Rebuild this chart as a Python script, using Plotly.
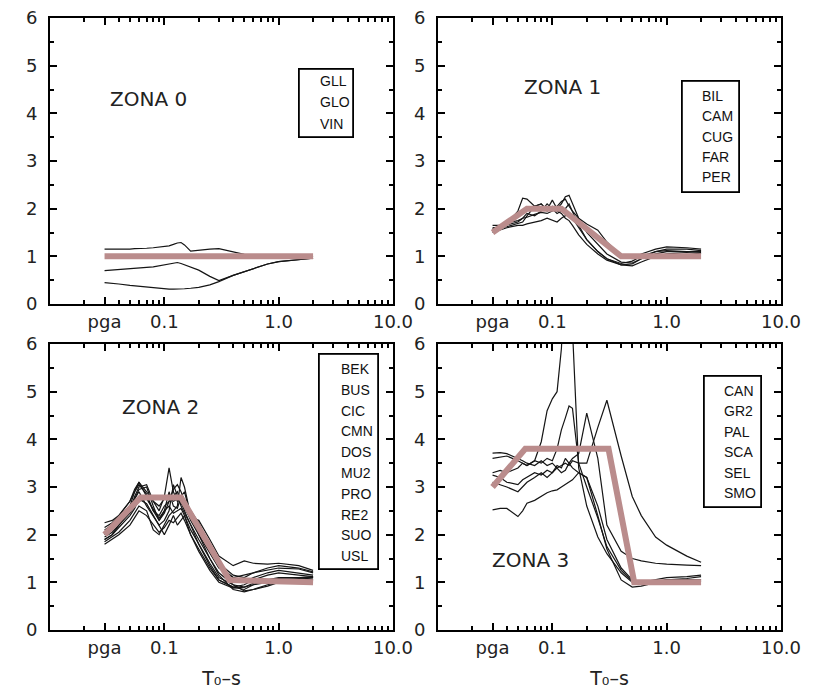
import plotly.graph_objects as go

# ---------------- data ----------------
PERIODS = [0.03, 0.035, 0.04, 0.05, 0.055, 0.06, 0.07, 0.08, 0.09, 0.1, 0.11, 0.12, 0.13,
           0.14, 0.15, 0.17, 0.2, 0.25, 0.3, 0.4, 0.5, 0.6, 0.8, 1.0, 1.5, 2.0]

X_TICK_VALS = [0.03, 0.1, 1, 10]
X_TICK_TEXT = ["pga", "0.1", "1.0", "10.0"]
X_TITLE = "T₀–s"

ZONE_NAMES = ["ZONA 0", "ZONA 1", "ZONA 2", "ZONA 3"]

STATIONS_Z0 = ["GLL", "GLO", "VIN"]
STATIONS_Z1 = ["BIL", "CAM", "CUG", "FAR", "PER"]
STATIONS_Z2 = ["BEK", "BUS", "CIC", "CMN", "DOS", "MU2", "PRO", "RE2", "SUO", "USL"]
STATIONS_Z3 = ["CAN", "GR2", "PAL", "SCA", "SEL", "SMO"]

Z0_CURVES = [
    [1.15, 1.15, 1.14, 1.15, 1.16, 1.16, 1.17, 1.18, 1.19, 1.2, 1.22, 1.25, 1.28, 1.29, 1.24, 1.11, 1.13, 1.15, 1.16, 1.1, 1.04, 1.02, 1.01, 1.0, 0.99, 1.0],
    [0.70, 0.71, 0.72, 0.74, 0.75, 0.76, 0.77, 0.78, 0.80, 0.82, 0.84, 0.86, 0.87, 0.85, 0.82, 0.77, 0.71, 0.58, 0.49, 0.60, 0.68, 0.74, 0.84, 0.89, 0.93, 0.96],
    [0.45, 0.44, 0.42, 0.39, 0.38, 0.36, 0.35, 0.34, 0.33, 0.32, 0.31, 0.31, 0.31, 0.32, 0.32, 0.33, 0.35, 0.40, 0.47, 0.60, 0.68, 0.74, 0.84, 0.89, 0.93, 0.96],
]

Z1_CURVES = [
    [1.6, 1.62, 1.68, 1.95, 2.22, 2.2, 2.05, 2.1, 1.95, 2.05, 1.95, 1.9, 1.8, 1.75, 1.65, 1.45, 1.25, 1.05, 0.92, 0.82, 0.84, 0.95, 1.05, 1.1, 1.1, 1.08],
    [1.55, 1.6, 1.62, 1.7, 1.72, 1.85, 2.05, 2.1, 1.98, 2.18, 2.0, 2.1, 2.25, 2.28, 2.1, 1.8, 1.5, 1.25, 1.05, 0.88, 0.86, 0.95, 1.1, 1.15, 1.15, 1.12],
    [1.5, 1.55, 1.6, 1.65, 1.65, 1.68, 1.72, 1.75, 1.8, 1.75, 1.72, 1.8, 1.85, 1.9, 1.8, 1.6, 1.35, 1.1, 0.95, 0.82, 0.8, 0.88, 1.0, 1.05, 1.08, 1.05],
    [1.65, 1.65, 1.7, 1.75, 1.8, 1.82, 1.88, 1.92, 1.9, 1.95, 2.05, 2.15, 2.2, 2.05, 1.95, 1.8, 1.68, 1.55, 1.3, 1.0, 0.95, 1.05, 1.15, 1.2, 1.18, 1.15],
    [1.58, 1.62, 1.65, 1.72, 1.8, 1.9, 1.85, 1.95, 2.1, 2.0, 1.9, 1.95, 2.0, 2.1, 1.95, 1.65, 1.35, 1.1, 0.95, 0.85, 0.9, 1.0, 1.1, 1.12, 1.1, 1.1],
]

Z2_CURVES = [
    [2.0, 2.1, 2.25, 2.6, 2.9, 3.1, 2.8, 2.5, 2.4, 2.6, 2.7, 2.8, 2.9, 2.7, 2.5, 2.2, 1.8, 1.35, 1.05, 0.9, 0.85, 0.95, 1.05, 1.1, 1.1, 1.1],
    [1.9, 2.0, 2.2, 2.5, 2.8, 3.0, 3.05, 2.7, 2.5, 2.8, 3.4, 2.9, 2.7, 2.8, 2.6, 2.3, 2.0, 1.6, 1.3, 1.1, 1.0, 1.1, 1.2, 1.25, 1.2, 1.15],
    [2.1, 2.2, 2.35, 2.6, 2.75, 2.9, 2.6, 2.4, 2.2, 2.3, 2.5, 3.05, 2.8, 2.6, 2.45, 2.2, 1.9, 1.5, 1.2, 0.95, 0.82, 0.85, 0.95, 1.0, 1.05, 1.05],
    [1.85, 1.95, 2.05, 2.3, 2.45, 2.6, 2.5, 2.1, 2.0, 2.2, 2.4, 2.5, 2.6, 3.2, 3.0, 2.4, 2.0, 1.5, 1.15, 0.85, 0.8, 0.85, 0.92, 1.0, 1.05, 1.1],
    [2.25, 2.3, 2.4, 2.7, 2.95, 3.1, 2.9, 2.7, 2.6, 2.75, 2.8, 2.7, 2.75, 2.65, 2.55, 2.35, 2.3, 1.9, 1.55, 1.35, 1.45, 1.4, 1.38, 1.4, 1.35, 1.25],
    [1.95, 2.05, 2.2, 2.45, 2.6, 2.7, 2.75, 2.55, 2.35, 2.5, 2.6, 2.45, 2.5, 2.55, 2.4, 2.0, 1.7, 1.3, 1.05, 0.9, 0.95, 1.05, 1.15, 1.2, 1.15, 1.12],
    [2.05, 2.15, 2.3, 2.55, 2.75, 2.95, 3.0, 2.6, 2.3, 2.5, 2.9, 2.6, 2.55, 2.8, 2.9, 2.4, 2.1, 1.7, 1.4, 1.15, 1.1, 1.2, 1.25, 1.3, 1.28, 1.2],
    [1.8, 1.9, 2.0, 2.2, 2.35, 2.5, 2.4, 2.2, 2.05, 2.15, 2.3, 2.25, 2.35, 2.45, 2.3, 2.0, 1.65, 1.25, 1.0, 0.88, 0.9, 0.98, 1.05, 1.08, 1.1, 1.12],
    [2.15, 2.25, 2.4, 2.7, 2.9, 3.05, 2.85, 2.5, 2.3, 2.45, 2.7, 2.95, 3.05, 2.9, 2.7, 2.5, 2.25, 1.75, 1.35, 1.1, 1.15, 1.2, 1.3, 1.35, 1.3, 1.22],
    [1.9, 2.0, 2.15, 2.4, 2.55, 2.75, 2.65, 2.4, 2.2, 2.0, 2.2, 2.4, 2.2, 2.3, 2.4, 2.1, 1.8, 1.4, 1.1, 0.95, 0.9, 0.95, 1.0, 1.05, 1.08, 1.1],
]

Z3_CURVES = [
    [3.6, 3.62, 3.65, 3.55, 3.5, 3.45, 3.55, 3.95, 4.6, 4.85, 5.0, 5.9, 7.5, 7.8, 6.3, 3.4, 2.6, 1.95, 1.6, 1.2, 1.0, 0.95, 1.0, 1.05, 1.08, 1.12],
    [3.3, 3.35, 3.3, 3.4, 3.5, 3.45, 3.55, 3.5, 3.6, 3.55, 3.8, 4.2, 4.45, 4.7, 4.65, 3.5, 3.0, 2.35, 1.75, 1.25, 1.02, 0.98, 1.02, 1.05, 1.05, 1.05],
    [3.71, 3.72, 3.7, 3.6, 3.55, 3.5, 3.45, 3.55, 3.45, 3.5, 3.4, 3.3, 3.35, 3.5, 3.6, 3.7, 4.55, 3.6, 2.2, 1.65, 1.5, 1.45, 1.4, 1.38, 1.36, 1.35],
    [3.25, 3.2, 3.1, 3.05, 3.15, 3.2, 3.3, 3.25, 3.35, 3.3, 3.4, 3.45, 3.5, 3.45, 3.55, 3.5, 3.5, 4.25, 4.82, 3.65, 2.8, 2.4, 1.95, 1.78, 1.55, 1.42],
    [3.1, 3.05, 3.0, 2.9, 3.0, 3.1, 3.2, 3.3, 3.2, 3.3, 3.45, 3.4, 3.6, 3.5, 3.4, 3.3, 3.2, 2.6, 1.9, 1.3, 1.05, 1.0, 1.05, 1.1, 1.12, 1.15],
    [2.52, 2.55, 2.55, 2.38, 2.5, 2.66, 2.72, 2.8, 2.88, 2.92, 2.94, 3.0, 3.05, 3.1, 3.15, 3.3, 3.2, 2.4, 1.7, 1.05, 0.9, 0.92, 1.0, 1.05, 1.05, 1.02],
]

# design spectra (pink) knots
Z0_DESIGN_T = [0.03, 2.0]
Z0_DESIGN_Y = [1.0, 1.0]
Z1_DESIGN_T = [0.03, 0.06, 0.12, 0.4, 2.0]
Z1_DESIGN_Y = [1.5, 2.0, 2.0, 1.0, 1.0]
Z2_DESIGN_T = [0.03, 0.062, 0.14, 0.37, 2.0]
Z2_DESIGN_Y = [2.0, 2.78, 2.78, 1.05, 1.0]
Z3_DESIGN_T = [0.03, 0.058, 0.31, 0.52, 2.0]
Z3_DESIGN_Y = [3.0, 3.8, 3.8, 1.0, 1.0]

# ---------------- layout helpers ----------------
W, H = 821, 693


def px_x(p):
    return p / W


def px_y(p):
    return 1 - p / H


PANELS = [  # (left, right, top, bottom) in px
    (50, 393, 18, 304),
    (438, 781, 18, 304),
    (50, 393, 344, 630),
    (438, 781, 344, 630),
]

PINK = "#ba8c8c"
BLACK = "#151515"
FONT = "DejaVu Sans"

fig = go.Figure()

zones = [
    (Z0_CURVES, Z0_DESIGN_T, Z0_DESIGN_Y),
    (Z1_CURVES, Z1_DESIGN_T, Z1_DESIGN_Y),
    (Z2_CURVES, Z2_DESIGN_T, Z2_DESIGN_Y),
    (Z3_CURVES, Z3_DESIGN_T, Z3_DESIGN_Y),
]

for i, (curves, dt, dy) in enumerate(zones):
    xa = "x" if i == 0 else f"x{i+1}"
    ya = "y" if i == 0 else f"y{i+1}"
    for c in curves:
        fig.add_trace(go.Scatter(x=PERIODS, y=c, mode="lines", xaxis=xa, yaxis=ya,
                                 line=dict(color=BLACK, width=1.2), hoverinfo="skip"))
    fig.add_trace(go.Scatter(x=dt, y=dy, mode="lines", xaxis=xa, yaxis=ya,
                             line=dict(color=PINK, width=6), hoverinfo="skip"))

minor_x = [d * k for d in (0.01, 0.1, 1) for k in range(2, 10)]

tickfont = dict(family=FONT, size=18, color="#222")

layout = dict(
    template="none",
    width=W, height=H, margin=dict(l=0, r=0, t=0, b=0, autoexpand=False),
    paper_bgcolor="white", plot_bgcolor="white", showlegend=False,
)

for i, (l, r, t, b) in enumerate(PANELS):
    sfx = "" if i == 0 else str(i + 1)
    layout[f"xaxis{sfx}"] = dict(
        type="log", range=[-2, 1], domain=[px_x(l), px_x(r)], anchor=f"y{sfx}",
        tickvals=X_TICK_VALS, ticktext=X_TICK_TEXT,
        ticks="inside", ticklen=7, tickwidth=1.5, tickcolor="black",
        showline=True, linewidth=2, linecolor="black", mirror="allticks",
        showgrid=False, zeroline=False, automargin=False, tickfont=tickfont,
        minor=dict(tickvals=minor_x, ticks="inside", ticklen=4, tickcolor="black"),
    )
    if i >= 2:
        layout[f"xaxis{sfx}"]["title"] = dict(text=X_TITLE, standoff=15,
                                              font=dict(family=FONT, size=19, color="#222"))
    layout[f"yaxis{sfx}"] = dict(
        range=[0, 6], domain=[px_y(b), px_y(t)], anchor=f"x{sfx}", dtick=1,
        ticks="inside", ticklen=7, tickwidth=1.5, tickcolor="black",
        showline=True, linewidth=2, linecolor="black", mirror="allticks",
        showgrid=False, zeroline=False, automargin=False, tickfont=tickfont,
        ticklabelstandoff=7,
        minor=dict(dtick=0.5, ticks="inside", ticklen=4, tickcolor="black"),
    )

fig.update_layout(**layout)

annotations = []

# zone labels
zone_pos = [(148, 99), (562, 87), (160, 407), (530, 560)]
for name, (x, y) in zip(ZONE_NAMES, zone_pos):
    annotations.append(dict(text=name, x=px_x(x), y=px_y(y), xref="paper", yref="paper",
                            showarrow=False, xanchor="center", yanchor="middle",
                            font=dict(family=FONT, size=20, color="#222")))

# station boxes: (box l, r, t, b), text left x, first line y, line step
boxes = [
    (STATIONS_Z0, (298, 354, 68, 138), 318, 81, 21.5),
    (STATIONS_Z1, (681, 740, 80, 193), 700, 96, 20.3),
    (STATIONS_Z2, (318, 379, 353, 570), 339, 369, 20.8),
    (STATIONS_Z3, (703, 762, 375, 508), 722, 391, 20.4),
]
BW = 1.8
for names, (l, r, t, b), tx, ty, step in boxes:
    # frame of the station list
    annotations.append(dict(text=" ", x=px_x((l + r) / 2), y=px_y((t + b) / 2),
                            xref="paper", yref="paper", showarrow=False,
                            xanchor="center", yanchor="middle",
                            width=r - l - 2 * BW, height=b - t - 2 * BW,
                            borderpad=0, borderwidth=BW, bordercolor="black",
                            bgcolor="rgba(0,0,0,0)", font=dict(size=10)))
    for k, nm in enumerate(names):
        annotations.append(dict(text=nm, x=px_x(tx), y=px_y(ty + k * step),
                                xref="paper", yref="paper", showarrow=False,
                                xanchor="left", yanchor="middle",
                                font=dict(family="Liberation Sans", size=14, color="#111")))

fig.update_layout(annotations=annotations)

fig.write_html("out.html", config={"displayModeBar": False},
               post_script="document.body.style.margin='0px';")
